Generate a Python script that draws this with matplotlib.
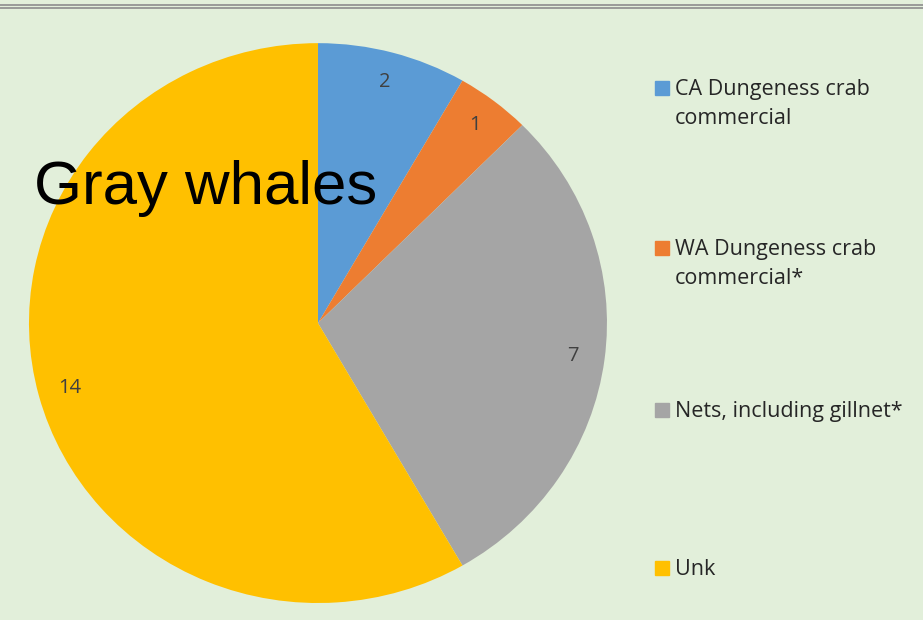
import matplotlib.pyplot as plt
from matplotlib.patches import Rectangle

# Gray whale entanglements by gear type
categories = ['CA Dungeness crab\ncommercial', 'WA Dungeness crab\ncommercial*',
              'Nets, including gillnet*', 'Unk']
counts = [2, 1, 7, 14]
colors = ['#5B9BD5', '#ED7D31', '#A5A5A5', '#FFC000']
title = 'Gray whales'

bg = '#E2EFDA'
fig = plt.figure(figsize=(9.23, 6.2), dpi=100, facecolor=bg)

# top border lines
fig.add_artist(plt.Line2D([0, 1], [1 - 5 / 620] * 2, color='#8C8C8C', lw=1.2))
fig.add_artist(plt.Line2D([0, 1], [1 - 7.5 / 620] * 2, color='#8C8C8C', lw=1.2))

ax = fig.add_axes([0.0314, 0.0274, 0.6262, 0.903])
ax.set_facecolor(bg)
total = sum(counts)
wedges, texts, autotexts = ax.pie(
    counts, colors=colors, startangle=90, counterclock=False,
    autopct=lambda p: f'{round(p * total / 100)}', pctdistance=0.89,
    textprops={'fontsize': 14.5, 'color': '#404040', 'family': 'Open Sans'},
    wedgeprops={'linewidth': 0})
ax.set_aspect('auto')
ax.set_xlim(-1, 1)
ax.set_ylim(-1, 1)
ax.axis('off')

fig.text(34 / 923, 1 - 204 / 620, title, fontsize=44.5, color='black',
         family=['Liberation Sans', 'DejaVu Sans'], va='baseline', ha='left')

# legend
leg_y = [88, 248, 410, 568]
for lab, col, y in zip(categories, colors, leg_y):
    fig.add_artist(Rectangle((655 / 923, 1 - (y + 7) / 620), 14 / 923, 14 / 620,
                             color=col, transform=fig.transFigure))
    fig.text(675 / 923, 1 - (y - 9) / 620, lab, fontsize=15.5, color='#262626',
             family='Open Sans', va='top', ha='left', linespacing=1.5)

fig.savefig('out.png', dpi=100, facecolor=bg)
